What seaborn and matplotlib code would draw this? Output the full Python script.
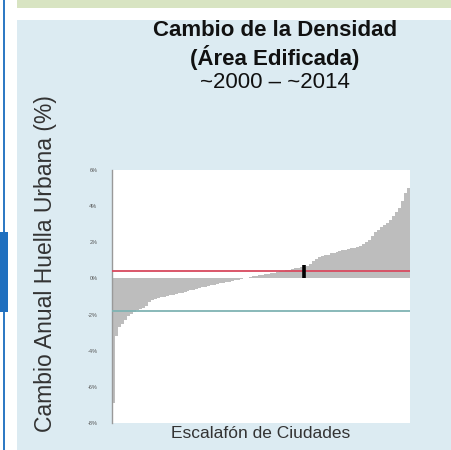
import numpy as np
import pandas as pd
import matplotlib
matplotlib.use("Agg")
import matplotlib.pyplot as plt
import seaborn as sns
from matplotlib.patches import Rectangle

# Annual change of built-up density per city, sorted (percent)
cambio = [-6.9, -3.2, -2.7, -2.5, -2.3, -2.1, -1.95, -1.85, -1.75, -1.7,
          -1.62, -1.55, -1.3, -1.2, -1.15, -1.1, -1.05, -1.0, -0.97, -0.93,
          -0.9, -0.86, -0.82, -0.78, -0.74, -0.7, -0.66, -0.62, -0.57, -0.52,
          -0.48, -0.45, -0.42, -0.38, -0.35, -0.32, -0.28, -0.25, -0.22, -0.18,
          -0.14, -0.1, -0.06, -0.02, 0.02, 0.05, 0.08, 0.11, 0.14, 0.17,
          0.2, 0.23, 0.26, 0.29, 0.32, 0.36, 0.4, 0.43, 0.46, 0.49,
          0.52, 0.55, 0.58, 0.62, 0.66, 0.7, 0.8, 0.95, 1.1, 1.18,
          1.24, 1.28, 1.32, 1.38, 1.43, 1.48, 1.52, 1.56, 1.6, 1.63,
          1.66, 1.7, 1.75, 1.82, 1.9, 2.0, 2.15, 2.35, 2.55, 2.7,
          2.85, 2.95, 3.05, 3.25, 3.45, 3.65, 3.9, 4.3, 4.7, 5.0]
ranking = list(range(len(cambio)))

linea_roja = 0.39     # reference line (red)
linea_verde = -1.8    # reference line (teal)
ciudad_rank = 64      # highlighted city
ciudad_valor = 0.75

y_ticks = [6, 4, 2, 0, -2, -4, -6, -8]
y_tick_labels = ["6%", "4%", "2%", "0%", "-2%", "-4%", "-6%", "-8%"]

df = pd.DataFrame({"rank": ranking, "cambio": cambio})

sns.set_style("white")
plt.rcParams["font.family"] = ["Liberation Sans", "DejaVu Sans"]

fig = plt.figure(figsize=(4.51, 4.5), dpi=100)
fig.patch.set_facecolor("white")

# slide decorations (behind the axes)
deco = [((17 / 451, 0), 1, 1 - 20 / 450, "#dcebf2"),
        ((17 / 451, 1 - 8 / 450), 1, 8 / 450, "#d8e4c2"),
        ((3 / 451, 0), 2 / 451, 1, "#2f7ac4"),
        ((0, 1 - 312 / 450), 8 / 451, 80 / 450, "#1f6fbf")]
for xy, w, h, c in deco:
    fig.patches.append(Rectangle(xy, w, h, transform=fig.transFigure,
                                 facecolor=c, edgecolor="none", zorder=-5))

ax = fig.add_axes([112 / 451, 1 - 423 / 450, 298 / 451, 253 / 450])
ax.set_zorder(2)
ax.set_facecolor("white")

sns.barplot(data=df, x="rank", y="cambio", color="#bdbdbd", width=1.0,
            saturation=1, edgecolor="none", linewidth=0, ax=ax)

ax.axhline(linea_roja, color="#d8495e", lw=1.3, zorder=3)
ax.axhline(linea_verde, color="#7fb3b3", lw=1.3, zorder=3)
ax.vlines(ciudad_rank, 0, ciudad_valor, color="black", lw=2.6, zorder=4)

ax.set_xlim(-0.5, len(cambio) - 0.5)
ax.set_ylim(-8, 6)
ax.set_yticks(y_ticks)
ax.set_yticklabels(y_tick_labels, fontsize=4, color="#555555")
ax.set_xticks([])
ax.tick_params(axis="y", length=1.5, width=0.5, color="#999999", pad=9)
for s in ["top", "right", "bottom"]:
    ax.spines[s].set_visible(False)
ax.spines["left"].set_color("#999999")
ax.spines["left"].set_linewidth(1)

ax.set_xlabel("Escalafón de Ciudades", fontsize=12.5, color="#333333", labelpad=2)
ax.set_ylabel("")

fig.text(46 / 451, 1 - 264 / 450, "Cambio Anual Huella Urbana (%)", rotation=90,
         ha="center", va="center", fontsize=16.5, color="#333333")

fig.text(275 / 451, 1 - 31 / 450, "Cambio de la Densidad", ha="center", va="center",
         fontsize=16, fontweight="bold", color="#111111")
fig.text(275 / 451, 1 - 57 / 450, "(Área Edificada)", ha="center", va="center",
         fontsize=16, fontweight="bold", color="#111111")
fig.text(275 / 451, 1 - 83 / 450, "~2000 – ~2014", ha="center", va="center",
         fontsize=16, color="#111111")

fig.savefig("out.png", dpi=100)
